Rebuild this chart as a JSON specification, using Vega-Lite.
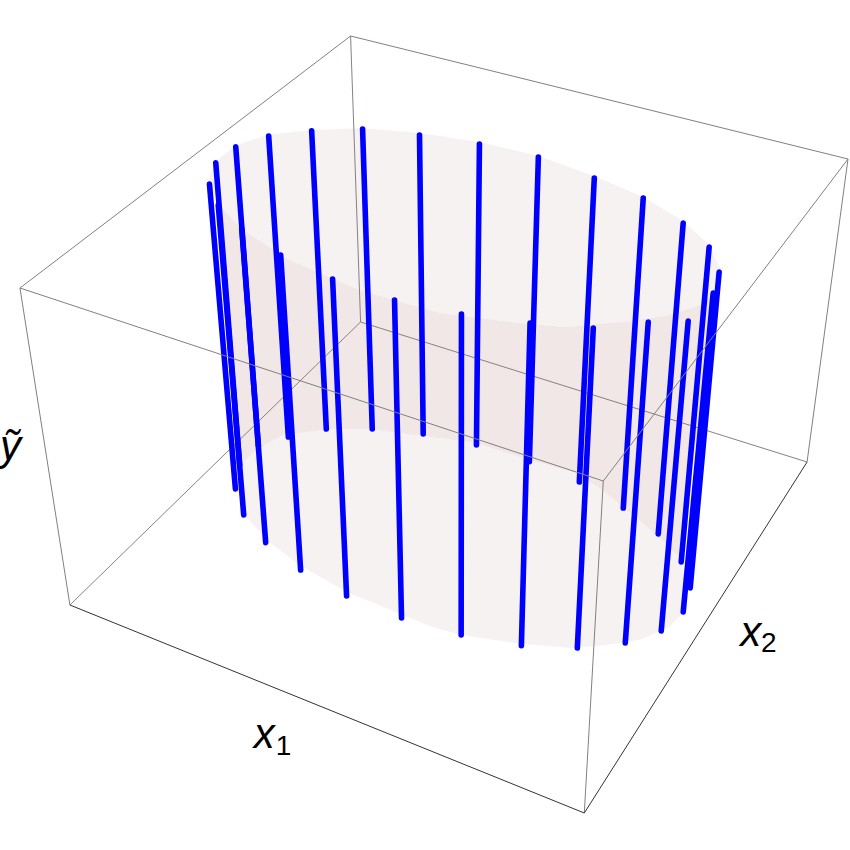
{
"$schema":"https://vega.github.io/schema/vega-lite/v6.json",
"width":850,"height":850,"padding":0,"autosize":{"type":"fit","contains":"padding"},
"background":"white","view":{"stroke":null},
"datasets":{
"cap":[
{"shape":"top","k":1,"sx":208,"sy":182},{"shape":"top","k":2,"sx":212,"sy":170},{"shape":"top","k":3,"sx":220,"sy":158},{"shape":"top","k":4,"sx":237,"sy":145},{"shape":"top","k":5,"sx":267,"sy":135},{"shape":"top","k":6,"sx":313,"sy":130},{"shape":"top","k":7,"sx":363,"sy":128},{"shape":"top","k":8,"sx":420,"sy":133},{"shape":"top","k":9,"sx":480,"sy":142},{"shape":"top","k":10,"sx":539,"sy":156},{"shape":"top","k":11,"sx":595,"sy":176},{"shape":"top","k":12,"sx":644,"sy":197},{"shape":"top","k":13,"sx":684,"sy":221},{"shape":"top","k":14,"sx":710,"sy":245},{"shape":"top","k":15,"sx":722,"sy":270},{"shape":"top","k":16,"sx":716,"sy":293},{"shape":"top","k":17,"sx":703,"sy":304},{"shape":"top","k":18,"sx":670,"sy":315},{"shape":"top","k":19,"sx":633,"sy":321},{"shape":"top","k":20,"sx":567,"sy":327},{"shape":"top","k":21,"sx":520,"sy":323},{"shape":"top","k":22,"sx":440,"sy":313},{"shape":"top","k":23,"sx":360,"sy":290},{"shape":"top","k":24,"sx":290,"sy":260},{"shape":"top","k":25,"sx":243,"sy":230},{"shape":"top","k":26,"sx":222,"sy":208},
{"shape":"bottom","k":1,"sx":236,"sy":478},{"shape":"bottom","k":2,"sx":243,"sy":462},{"shape":"bottom","k":3,"sx":257,"sy":450},{"shape":"bottom","k":4,"sx":283,"sy":435},{"shape":"bottom","k":5,"sx":333,"sy":429},{"shape":"bottom","k":6,"sx":367,"sy":429},{"shape":"bottom","k":7,"sx":400,"sy":433},{"shape":"bottom","k":8,"sx":477,"sy":443},{"shape":"bottom","k":9,"sx":523,"sy":458},{"shape":"bottom","k":10,"sx":577,"sy":473},{"shape":"bottom","k":11,"sx":603,"sy":490},{"shape":"bottom","k":12,"sx":630,"sy":512},{"shape":"bottom","k":13,"sx":657,"sy":535},{"shape":"bottom","k":14,"sx":680,"sy":557},{"shape":"bottom","k":15,"sx":689,"sy":590},{"shape":"bottom","k":16,"sx":682,"sy":615},{"shape":"bottom","k":17,"sx":670,"sy":627},{"shape":"bottom","k":18,"sx":640,"sy":640},{"shape":"bottom","k":19,"sx":607,"sy":645},{"shape":"bottom","k":20,"sx":573,"sy":648},{"shape":"bottom","k":21,"sx":523,"sy":644},{"shape":"bottom","k":22,"sx":462,"sy":635},{"shape":"bottom","k":23,"sx":433,"sy":627},{"shape":"bottom","k":24,"sx":347,"sy":592},{"shape":"bottom","k":25,"sx":300,"sy":565},{"shape":"bottom","k":26,"sx":267,"sy":540},{"shape":"bottom","k":27,"sx":245,"sy":515}
],
"wall":[
{"k":1,"sx":222,"sy":208},{"k":2,"sx":243,"sy":230},{"k":3,"sx":290,"sy":260},{"k":4,"sx":360,"sy":290},{"k":5,"sx":440,"sy":313},{"k":6,"sx":520,"sy":323},{"k":7,"sx":567,"sy":327},{"k":8,"sx":633,"sy":321},{"k":9,"sx":670,"sy":315},{"k":10,"sx":703,"sy":304},{"k":11,"sx":716,"sy":293},{"k":12,"sx":722,"sy":270},{"k":13,"sx":680,"sy":557},{"k":14,"sx":657,"sy":535},{"k":15,"sx":630,"sy":512},{"k":16,"sx":603,"sy":490},{"k":17,"sx":577,"sy":473},{"k":18,"sx":523,"sy":458},{"k":19,"sx":477,"sy":443},{"k":20,"sx":400,"sy":433},{"k":21,"sx":367,"sy":429},{"k":22,"sx":333,"sy":429},{"k":23,"sx":283,"sy":435},{"k":24,"sx":257,"sy":450},{"k":25,"sx":243,"sy":462},{"k":26,"sx":236,"sy":478}
],
"edges":[
{"edge":"b1","kind":"back","k":1,"sx":70,"sy":605},{"edge":"b1","kind":"back","k":2,"sx":361,"sy":322},
{"edge":"b2","kind":"back","k":1,"sx":361,"sy":322},{"edge":"b2","kind":"back","k":2,"sx":808,"sy":462},
{"edge":"b3","kind":"back","k":1,"sx":351,"sy":36},{"edge":"b3","kind":"back","k":2,"sx":361,"sy":322},
{"edge":"t1","kind":"front","k":1,"sx":351,"sy":36},{"edge":"t1","kind":"front","k":2,"sx":849,"sy":159},
{"edge":"t2","kind":"front","k":1,"sx":351,"sy":36},{"edge":"t2","kind":"front","k":2,"sx":20,"sy":288},
{"edge":"t3","kind":"front","k":1,"sx":20,"sy":288},{"edge":"t3","kind":"front","k":2,"sx":604,"sy":481},
{"edge":"t4","kind":"front","k":1,"sx":604,"sy":481},{"edge":"t4","kind":"front","k":2,"sx":849,"sy":159},
{"edge":"v1","kind":"front","k":1,"sx":20,"sy":288},{"edge":"v1","kind":"front","k":2,"sx":70,"sy":605},
{"edge":"v2","kind":"front","k":1,"sx":849,"sy":159},{"edge":"v2","kind":"front","k":2,"sx":808,"sy":462},
{"edge":"v3","kind":"front","k":1,"sx":604,"sy":481},{"edge":"v3","kind":"front","k":2,"sx":585,"sy":813},
{"edge":"f1","kind":"base","k":1,"sx":70,"sy":605},{"edge":"f1","kind":"base","k":2,"sx":585,"sy":813},
{"edge":"f2","kind":"base","k":1,"sx":585,"sy":813},{"edge":"f2","kind":"base","k":2,"sx":808,"sy":462}
],
"sticks":[
{"id":"a1","k":1,"sx":209.7,"sy":184},{"id":"a1","k":2,"sx":235.7,"sy":489},
{"id":"a2","k":1,"sx":216,"sy":162.7},{"id":"a2","k":2,"sx":240,"sy":465},
{"id":"a3","k":1,"sx":236,"sy":146.7},{"id":"a3","k":2,"sx":258.7,"sy":446},
{"id":"a4","k":1,"sx":269,"sy":136},{"id":"a4","k":2,"sx":288.7,"sy":437},
{"id":"a5","k":1,"sx":312,"sy":130.7},{"id":"a5","k":2,"sx":326.7,"sy":429},
{"id":"a6","k":1,"sx":363,"sy":129},{"id":"a6","k":2,"sx":372.7,"sy":429},
{"id":"a7","k":1,"sx":420,"sy":135},{"id":"a7","k":2,"sx":423.7,"sy":434},
{"id":"a8","k":1,"sx":480,"sy":144},{"id":"a8","k":2,"sx":477,"sy":445},
{"id":"a9","k":1,"sx":539,"sy":157},{"id":"a9","k":2,"sx":530,"sy":461.7},
{"id":"a10","k":1,"sx":595,"sy":178},{"id":"a10","k":2,"sx":580,"sy":482},
{"id":"a11","k":1,"sx":644,"sy":198},{"id":"a11","k":2,"sx":624,"sy":508},
{"id":"a12","k":1,"sx":684,"sy":223},{"id":"a12","k":2,"sx":659,"sy":534},
{"id":"a13","k":1,"sx":710,"sy":247},{"id":"a13","k":2,"sx":682,"sy":562},
{"id":"a14","k":1,"sx":720,"sy":272},{"id":"a14","k":2,"sx":691,"sy":588},
{"id":"c1","k":1,"sx":218.5,"sy":205},{"id":"c1","k":2,"sx":244,"sy":515},
{"id":"c2","k":1,"sx":242,"sy":228},{"id":"c2","k":2,"sx":266,"sy":542.7},
{"id":"c3","k":1,"sx":281,"sy":255},{"id":"c3","k":2,"sx":301,"sy":570},
{"id":"c4","k":1,"sx":333,"sy":279},{"id":"c4","k":2,"sx":347,"sy":596},
{"id":"c5","k":1,"sx":395,"sy":300},{"id":"c5","k":2,"sx":402,"sy":618},
{"id":"c6","k":1,"sx":462,"sy":314},{"id":"c6","k":2,"sx":461.7,"sy":635},
{"id":"c7","k":1,"sx":530.7,"sy":323},{"id":"c7","k":2,"sx":522,"sy":645.7},
{"id":"c8","k":1,"sx":594,"sy":328},{"id":"c8","k":2,"sx":578,"sy":648},
{"id":"c9","k":1,"sx":649,"sy":322},{"id":"c9","k":2,"sx":626,"sy":643},
{"id":"c10","k":1,"sx":689,"sy":321},{"id":"c10","k":2,"sx":662,"sy":631},
{"id":"c11","k":1,"sx":714,"sy":293},{"id":"c11","k":2,"sx":684,"sy":612}
]
},
"encoding":{
"x":{"field":"sx","type":"quantitative","scale":{"domain":[0,850],"nice":false,"zero":false},"axis":null},
"y":{"field":"sy","type":"quantitative","scale":{"domain":[850,0],"nice":false,"zero":false},"axis":null},
"order":{"field":"k","type":"ordinal"}
},
"layer":[
{"data":{"name":"cap"},"mark":{"type":"line","fill":"#f6f2f2","strokeWidth":0,"clip":false},"encoding":{"detail":{"field":"shape"}}},
{"data":{"name":"wall"},"mark":{"type":"line","fill":"#f1e7e7","strokeWidth":0,"clip":false}},
{"data":{"name":"edges"},"transform":[{"filter":"datum.kind==='back'"}],"mark":{"type":"line","stroke":"#8a8080","strokeWidth":1},"encoding":{"detail":{"field":"edge"}}},
{"data":{"name":"sticks"},"mark":{"type":"line","stroke":"#0000ff","strokeWidth":5.6,"strokeCap":"round"},"encoding":{"detail":{"field":"id"}}},
{"data":{"name":"edges"},"transform":[{"filter":"datum.kind==='front'"}],"mark":{"type":"line","stroke":"#808080","strokeWidth":1},"encoding":{"detail":{"field":"edge"}}},
{"data":{"name":"edges"},"transform":[{"filter":"datum.kind==='base'"}],"mark":{"type":"line","stroke":"#333333","strokeWidth":1},"encoding":{"detail":{"field":"edge"}}},
{"data":{"values":[{"label":"x","sx":254,"sy":748},{"label":"x","sx":741,"sy":646},{"label":"ỹ","sx":0,"sy":460}]},"mark":{"type":"text","font":"Liberation Sans","fontStyle":"italic","fontSize":42,"align":"left","baseline":"alphabetic","color":"#000000"},"encoding":{"text":{"field":"label"},"order":{"value":null}}},
{"data":{"values":[{"label":"1","sx":276,"sy":755},{"label":"2","sx":762,"sy":652}]},"mark":{"type":"text","font":"Liberation Sans","fontSize":28,"align":"left","baseline":"alphabetic","color":"#000000"},"encoding":{"text":{"field":"label"},"order":{"value":null}}}
]
}
